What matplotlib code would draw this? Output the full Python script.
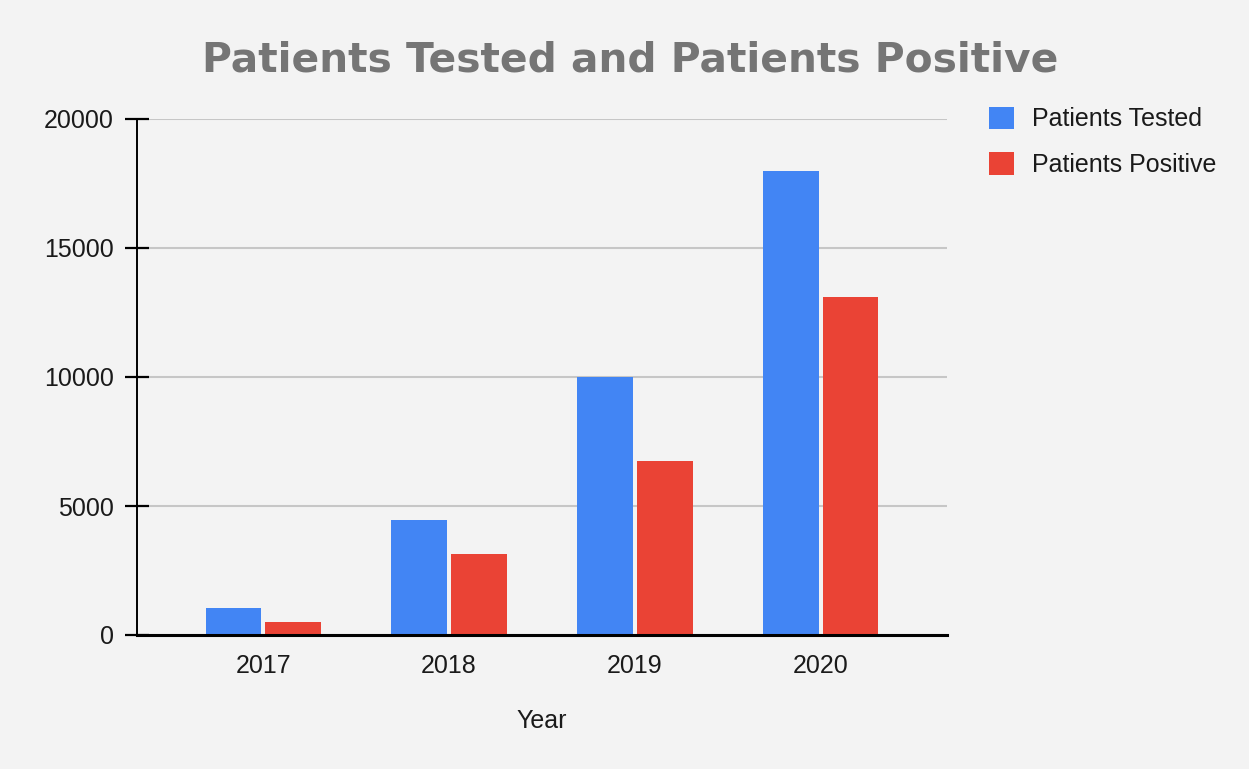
import matplotlib
matplotlib.use("Agg")
import matplotlib.pyplot as plt
from matplotlib.patches import Patch
import numpy as np

years = ["2017", "2018", "2019", "2020"]
tested = [1050, 4450, 10000, 18000]
positive = [500, 3150, 6750, 13100]
yticks = [0, 5000, 10000, 15000, 20000]

BG = "#f3f3f3"
BLUE = "#4285f4"
RED = "#ea4335"
TXT = "#1a1a1a"
FS = 18

plt.rcParams['font.family'] = ['Liberation Sans', 'DejaVu Sans']

fig = plt.figure(figsize=(12.49, 7.69), dpi=100, facecolor=BG)
ax = fig.add_axes([137/1249, 1-635/769, (947-137)/1249, (635-119)/769])
ax.set_facecolor(BG)

x = np.arange(len(years))
w = 0.30
gap = 0.011
ax.bar(x - w/2 - gap, tested, w, color=BLUE, zorder=3, label="Patients Tested")
ax.bar(x + w/2 + gap, positive, w, color=RED, zorder=3, label="Patients Positive")

ax.set_xlim(-0.68, 3.68)
ax.set_ylim(0, 20000)
ax.set_yticks(yticks)
ax.set_yticklabels([str(v) for v in yticks], fontsize=FS, color=TXT)
ax.set_xticks(x)
ax.set_xticklabels(years, fontsize=FS, color=TXT)
ax.tick_params(axis='x', length=0, pad=14)
ax.tick_params(axis='y', direction='inout', length=17, width=1.6, color='black', pad=8)
ax.yaxis.grid(True, color="#c6c6c6", linewidth=1.5, zorder=0)
for s in ['top', 'right']:
    ax.spines[s].set_visible(False)
ax.spines['left'].set_linewidth(1.4)
ax.spines['bottom'].set_linewidth(2.2)
ax.spines['left'].set_zorder(4)
ax.spines['bottom'].set_zorder(4)

ax.set_xlabel("Year", fontsize=FS, color=TXT, labelpad=22)

fig.text(630/1249, 1-60/769, "Patients Tested and Patients Positive",
         fontsize=29.3, fontweight='bold', color="#757575", ha='center', va='center',
         family=['DejaVu Sans'])

handles = [Patch(facecolor=BLUE, label="Patients Tested"),
           Patch(facecolor=RED, label="Patients Positive")]
leg = fig.legend(handles=handles, loc='upper left', bbox_to_anchor=(966/1249, 1-84/769),
                 frameon=False, fontsize=FS, handlelength=1.0, handleheight=1.0,
                 handletextpad=0.72, labelspacing=0.84)
for t in leg.get_texts():
    t.set_color(TXT)

fig.savefig("out.png", dpi=100, facecolor=BG)
